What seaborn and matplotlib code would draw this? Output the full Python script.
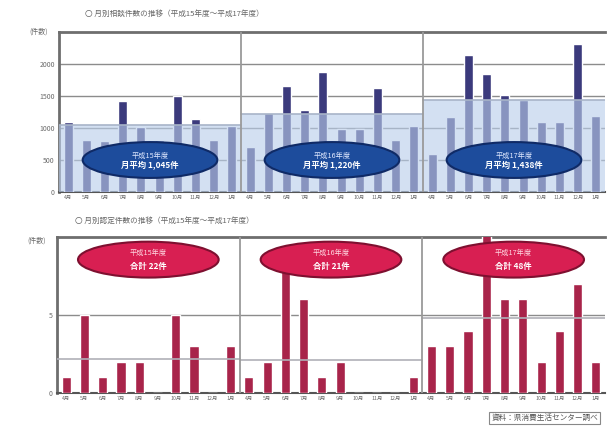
import numpy as np
import pandas as pd
import seaborn as sns
import matplotlib
matplotlib.use("Agg")
import matplotlib.pyplot as plt
from matplotlib.patches import Ellipse

# ---- data -------------------------------------------------------------
years = ["平成15年度", "平成16年度", "平成17年度"]
months = ["4月", "5月", "6月", "7月", "8月", "9月", "10月", "11月", "12月", "1月"]

consult_counts = [1090, 820, 800, 1420, 1010, 820, 1500, 1140, 820, 1030,
                  710, 1230, 1660, 1280, 1880, 980, 980, 1630, 820, 1030,
                  590, 1170, 2140, 1840, 1520, 1440, 1090, 1090, 2310, 1190]
case_counts = [1, 5, 1, 2, 2, 0, 5, 3, 0, 3,
               1, 2, 8, 6, 1, 2, 0, 0, 0, 1,
               3, 3, 4, 11, 6, 6, 2, 4, 7, 2]

top_ticks = [0, 500, 1000, 1500, 2000]
bottom_ticks = [0, 5]

sns.set_theme(style="white")
plt.rcParams["font.family"] = ["Noto Sans CJK JP", "DejaVu Sans"]

n_per = len(months)
labels = [f"{y}-{m}" for y in years for m in months]
df = pd.DataFrame({
    "key": labels,
    "year": np.repeat(years, n_per),
    "consult": consult_counts,
    "cases": case_counts,
})

fig = plt.figure(figsize=(6.08, 4.28), dpi=100)
W, H = 608, 428


def px_axes(x0, y0, x1, y1):
    return fig.add_axes([x0 / W, 1 - y1 / H, (x1 - x0) / W, (y1 - y0) / H])


ax1 = px_axes(59, 32, 605, 192)
ax2 = px_axes(57, 237, 605, 393)

grid_c = "#8c8c8c"
tick_c = "#6a6a6a"

# ---- upper panel: monthly consultations --------------------------------
sns.barplot(data=df, x="key", y="consult", color="#3b3a7c", width=0.5,
            saturation=1, ax=ax1, zorder=3)
ax1.set_ylim(0, 2500)
ax1.set_xlim(-0.5, len(labels) - 0.5)
ax1.set_yticks(top_ticks)
for t in top_ticks[1:]:
    ax1.axhline(t, color=grid_c, lw=1.0, zorder=1)

means = df.groupby("year", sort=False)["consult"].mean()
for k, yr in enumerate(years):
    x0 = k * n_per - 0.5
    m = means[yr]
    ax1.fill_between([x0, x0 + n_per], 0, m, color="#b9cdea", alpha=0.62,
                     lw=0, zorder=4)
    ax1.plot([x0, x0 + n_per], [m, m], color="#a8b4c8", lw=1.2, zorder=4)
    cx = x0 + n_per / 2
    ax1.add_patch(Ellipse((cx, 500), 7.4, 560, facecolor="#1d4c9c",
                          edgecolor="#0f2a66", lw=1.5, zorder=6))
    ax1.text(cx, 560, yr, ha="center", va="center", fontsize=5.2,
             color="#dfe8ff", zorder=7)
    ax1.text(cx, 420, f"月平均 {m:,.0f}件", ha="center", va="center",
             fontsize=6, color="white", fontweight="bold", zorder=7)
    if k > 0:
        ax1.axvline(x0, color="#9a9a9a", lw=1.3, zorder=5)

# ---- lower panel: monthly cases ----------------------------------------
sns.barplot(data=df, x="key", y="cases", color="#a8244a", width=0.5,
            saturation=1, ax=ax2, zorder=3)
ax2.set_ylim(0, 10)
ax2.set_xlim(-0.5, len(labels) - 0.5)
ax2.set_yticks(bottom_ticks)
ax2.axhline(5, color=grid_c, lw=1.0, zorder=1)

totals = df.groupby("year", sort=False)["cases"].sum()
case_means = df.groupby("year", sort=False)["cases"].mean()
for k, yr in enumerate(years):
    x0 = k * n_per - 0.5
    cm = case_means[yr]
    ax2.plot([x0, x0 + n_per], [cm, cm], color="#b0b0b8", lw=1.2, zorder=4)
    cx = x0 + n_per / 2
    ax2.add_patch(Ellipse((cx, 8.55), 7.7, 2.3, facecolor="#d81f52",
                          edgecolor="#7e1030", lw=1.5, zorder=6))
    ax2.text(cx, 8.95, yr, ha="center", va="center", fontsize=5.2,
             color="#ffd8e2", zorder=7)
    ax2.text(cx, 8.1, f"合計 {totals[yr]}件", ha="center", va="center",
             fontsize=6, color="white", fontweight="bold", zorder=7)
    if k > 0:
        ax2.axvline(x0, color="#9a9a9a", lw=1.3, zorder=5)

# ---- shared styling -----------------------------------------------------
for ax in (ax1, ax2):
    ax.set_xlabel("")
    ax.set_ylabel("")
    ax.set_xticks(range(len(labels)))
    ax.set_xticklabels(months * len(years), fontsize=3.8, color=tick_c)
    ax.tick_params(axis="y", labelsize=5, colors=tick_c, length=0, pad=3)
    ax.tick_params(axis="x", length=0, pad=2)
    for s in ("top", "left"):
        ax.spines[s].set_color("#6e6e6e")
        ax.spines[s].set_linewidth(2)
    ax.spines["bottom"].set_color("#555555")
    ax.spines["bottom"].set_linewidth(1.5)
    ax.spines["right"].set_visible(False)
    ax.set_facecolor("white")

ax1.text(-0.02, 1.0, "(件数)", transform=ax1.transAxes, ha="right",
         va="center", fontsize=5, color=tick_c)
ax2.text(-0.02, 0.98, "(件数)", transform=ax2.transAxes, ha="right",
         va="center", fontsize=5, color=tick_c)

fig.text(85 / W, 1 - 14 / H, "〇 月別相談件数の推移（平成15年度〜平成17年度）",
         fontsize=5.5, color="#666666", va="center")
fig.text(75 / W, 1 - 221 / H, "〇 月別認定件数の推移（平成15年度〜平成17年度）",
         fontsize=5.5, color="#666666", va="center")
fig.text(598 / W, 1 - 418 / H, "資料：県消費生活センター調べ", fontsize=5.5,
         color="#555555", va="center", ha="right",
         bbox=dict(boxstyle="square,pad=0.3", facecolor="white",
                   edgecolor="#888888", lw=0.8))

fig.savefig("out.png", dpi=100)
